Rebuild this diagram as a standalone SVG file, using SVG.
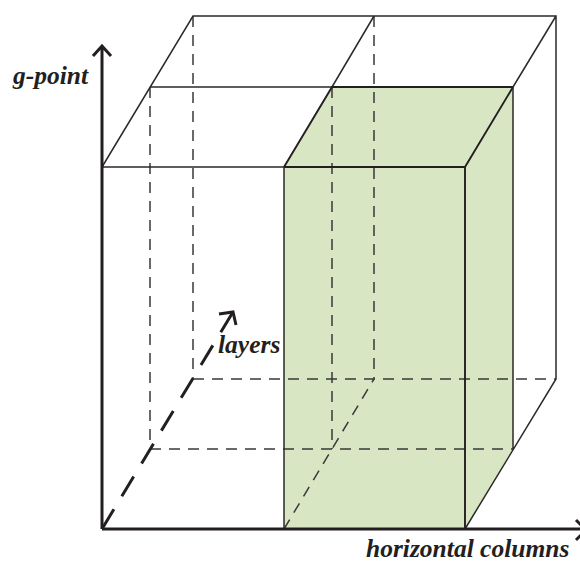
<svg xmlns="http://www.w3.org/2000/svg" width="580" height="563" viewBox="0 0 580 563">
<style>
.s{fill:none;stroke:#2b2a29;stroke-width:1.5}
.b{fill:none;stroke:#231f20;stroke-width:1.9}
.d{fill:none;stroke:#3a3839;stroke-width:1.5;stroke-dasharray:11 8}
.a{fill:none;stroke:#231f20;stroke-width:3}
text{font-family:"Liberation Serif",serif;font-style:italic;font-weight:bold;font-size:25.5px;fill:#231f20}
</style>
<rect width="580" height="563" fill="#fff"/>
<g id="green-block"><polygon points="284,167 332,87 513,87 513,449 465,529 284,529" fill="#d9e6c3"/></g>
<g id="connectors">
<path class="d" d="M150 87V449M193 16V379M332 87V449M374 16V379M193 379H556M150 449H513M284 529L374 379"/>
<path class="s" d="M102 167L193 16H556V379L465 529M150 87H332M102 167H284M284 167V529M332 87L374 16M513 87L556 16M513 87V449"/>
<path class="b" d="M284 167H465V529M284 167L332 87H513M465 167L513 87"/>
<path class="a" d="M102 529V47M93 56L102 46L111 56M102 529H580M576 520L586 530L576 540"/>
<path class="a" d="M102 529L233 312" stroke-dasharray="23 15.3"/>
<path class="a" d="M219 314L233 312L236 325"/>
</g>
<g id="label-g-point"><text x="13" y="84">g-point</text></g>
<g id="label-layers"><text x="218" y="353">layers</text></g>
<g id="label-horizontal-columns"><text x="366" y="557">horizontal columns</text></g>
</svg>
